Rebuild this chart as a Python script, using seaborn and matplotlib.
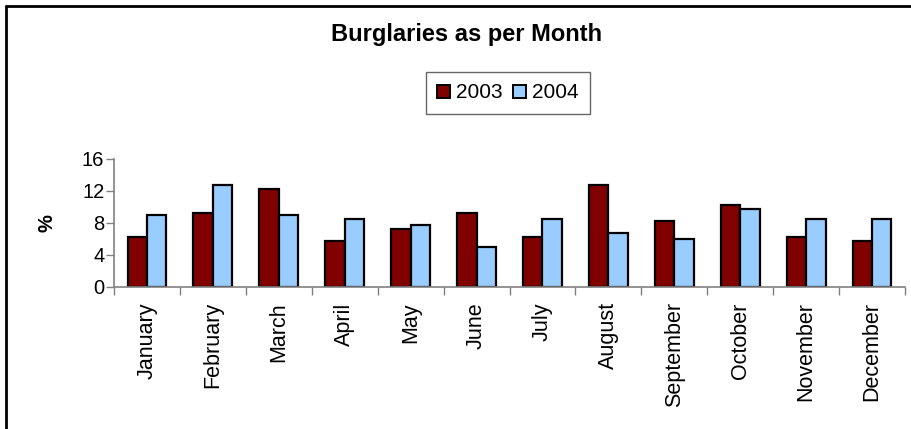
import matplotlib
matplotlib.use("Agg")
import matplotlib.pyplot as plt
from matplotlib.lines import Line2D
import seaborn as sns
import pandas as pd
import numpy as np

months = ["January", "February", "March", "April", "May", "June",
          "July", "August", "September", "October", "November", "December"]
years = ["2003", "2004"]
values_2003 = [6.25, 9.25, 12.2, 5.8, 7.3, 9.25, 6.25, 12.75, 8.25, 10.3, 6.25, 5.8]
values_2004 = [9.0, 12.75, 9.0, 8.5, 7.8, 5.0, 8.5, 6.8, 6.0, 9.75, 8.5, 8.5]
colors = ["#800000", "#99CCFF"]
y_ticks = [0, 4, 8, 12, 16]

df = pd.DataFrame({
    "Month": months * 2,
    "Year": [years[0]] * len(months) + [years[1]] * len(months),
    "Value": values_2003 + values_2004,
})

sns.set_theme(style="white")
plt.rcParams["font.family"] = ["Liberation Sans", "DejaVu Sans"]
plt.rcParams["text.color"] = "black"
plt.rcParams["axes.labelcolor"] = "black"
plt.rcParams["xtick.labelcolor"] = "black"
plt.rcParams["ytick.labelcolor"] = "black"

W, H = 911, 429
fig = plt.figure(figsize=(W / 100, H / 100), dpi=100)
ax = fig.add_axes([114 / W, 1 - 287 / H, (905 - 114) / W, (287 - 159) / H])

sns.barplot(data=df, x="Month", y="Value", hue="Year", order=months,
            hue_order=years, palette=colors, width=0.59, gap=0,
            edgecolor="black", linewidth=1.6, saturation=1, ax=ax,
            legend=False)

ax.set_xlim(-0.5, len(months) - 0.5)
ax.set_ylim(0, 16)
ax.set_yticks(y_ticks)
ax.set_yticklabels([str(t) for t in y_ticks], fontsize=14.5)

# category boundaries carry the tick marks, labels sit at category centres
ax.set_xticks(np.arange(-0.5, len(months), 1.0))
ax.set_xticklabels([])
ax.set_xticks(np.arange(len(months)), minor=True)
ax.set_xticklabels(months, minor=True, rotation=90, fontsize=15.5,
                   va="top", ha="center")
ax.tick_params(axis="x", which="major", direction="out", length=6,
               width=1, color="#808080", bottom=True)
ax.tick_params(axis="x", which="minor", length=0, pad=11)
ax.tick_params(axis="y", direction="out", length=6, width=1,
               color="#808080", pad=1, left=True)

for side in ("top", "right"):
    ax.spines[side].set_visible(False)
for side in ("left", "bottom"):
    ax.spines[side].set_color("#808080")
    ax.spines[side].set_linewidth(1.2)

ax.set_xlabel("")
ax.set_ylabel("%", fontsize=14.5, fontweight="bold", labelpad=18)
ax.grid(False)

fig.text(467 / W, 1 - 35 / H, "Burglaries as per Month", ha="center",
         va="center", fontsize=17, fontweight="bold")

handles = [plt.Rectangle((0, 0), 1, 1, facecolor=c, edgecolor="black",
                         linewidth=1.4) for c in colors]
leg = fig.legend(handles, years, loc="upper left",
                 bbox_to_anchor=(426 / W, 1 - 72 / H), ncol=2,
                 fontsize=15, frameon=True, fancybox=False,
                 handlelength=0.6, handleheight=0.6, handletextpad=0.3,
                 columnspacing=0.5, borderpad=0.55, borderaxespad=0)
leg.get_frame().set_edgecolor("#404040")
leg.get_frame().set_linewidth(1.0)

# outer chart frame (left and top edges fall inside the image)
fig.add_artist(Line2D([6 / W, 6 / W], [0, 1 - 6 / H], transform=fig.transFigure,
                      color="black", linewidth=2))
fig.add_artist(Line2D([6 / W, 1], [1 - 6 / H, 1 - 6 / H], transform=fig.transFigure,
                      color="black", linewidth=2))

fig.savefig("out.png", dpi=100)
